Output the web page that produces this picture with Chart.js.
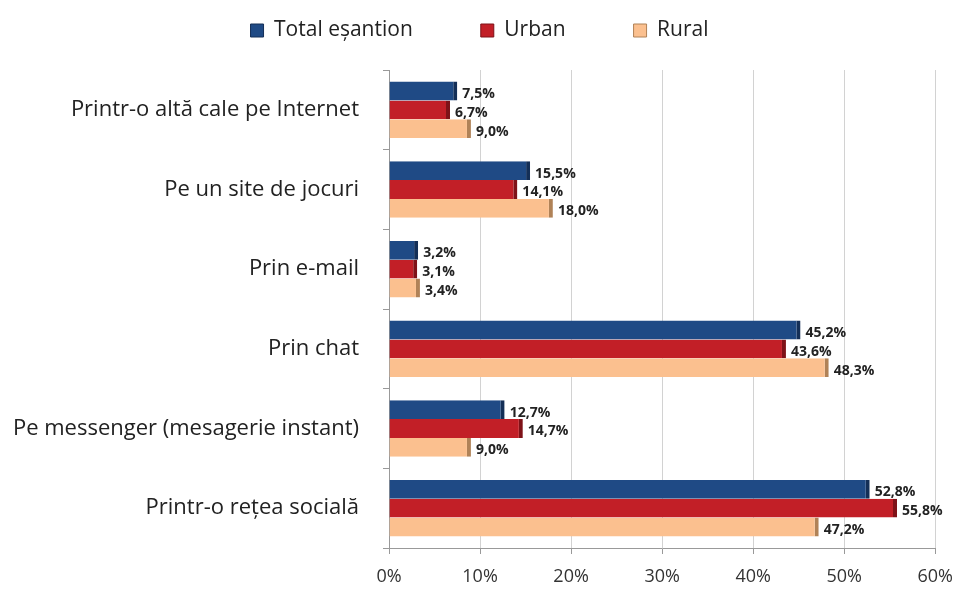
<!DOCTYPE html>
<html lang="ro">
<head>
<meta charset="UTF-8">
<title>Canale</title>
<script src="https://cdn.jsdelivr.net/npm/chart.js"></script>
<style>
  body { margin: 0; background: #ffffff; }
  .wrap { width: 965px; height: 591px; }
</style>
</head>
<body>
<div class="wrap"><canvas id="chart" width="965" height="591"></canvas></div>
<script>
const categories = [
  'Printr-o altă cale pe Internet',
  'Pe un site de jocuri',
  'Prin e-mail',
  'Prin chat',
  'Pe messenger (mesagerie instant)',
  'Printr-o reţea socială'
];
const totalValues = [7.5, 15.5, 3.2, 45.2, 12.7, 52.8];
const urbanValues = [6.7, 14.1, 3.1, 43.6, 14.7, 55.8];
const ruralValues = [9.0, 18.0, 3.4, 48.3, 9.0, 47.2];
const seriesNames = ['Total eşantion', 'Urban', 'Rural'];

const fontFamily = '"Open Sans", sans-serif';

// value labels to the right of each bar, comma decimals
const barLabels = {
  id: 'barLabels',
  afterDatasetsDraw(chart) {
    const ctx = chart.ctx;
    ctx.save();
    ctx.font = 'bold 14px ' + fontFamily;
    ctx.fillStyle = '#222';
    ctx.textBaseline = 'middle';
    chart.data.datasets.forEach((ds, i) => {
      chart.getDatasetMeta(i).data.forEach((bar, j) => {
        const txt = ds.data[j].toFixed(1).replace('.', ',') + '%';
        ctx.fillText(txt, bar.x + 5, bar.y + 3);
      });
    });
    ctx.restore();
  }
};

// legend: wide gaps between items but kept near the top edge
const legendPlace = {
  id: 'legendPlace',
  beforeLayout(chart) {
    const lg = chart.legend;
    if (!lg._origFit) {
      lg._origFit = lg.fit;
      lg.fit = function () {
        this._origFit();
        this.height = 70;
      };
    }
  },
  afterLayout(chart) {
    // move only the top edge so the items sit higher without being clipped
    chart.legend.top -= 48;
  }
};

new Chart(document.getElementById('chart'), {
  type: 'bar',
  data: {
    labels: categories,
    datasets: [
      {
        label: seriesNames[0],
        data: totalValues,
        backgroundColor: '#1f4a85',
        borderColor: '#142f57',
        borderWidth: { top: 0, right: 4, bottom: 0, left: 0 },
        borderSkipped: false
      },
      {
        label: seriesNames[1],
        data: urbanValues,
        backgroundColor: '#c21f27',
        borderColor: '#7e1218',
        borderWidth: { top: 0, right: 4, bottom: 0, left: 0 },
        borderSkipped: false
      },
      {
        label: seriesNames[2],
        data: ruralValues,
        backgroundColor: '#fbc08f',
        borderColor: '#b08257',
        borderWidth: { top: 0, right: 4, bottom: 0, left: 0 },
        borderSkipped: false
      }
    ]
  },
  options: {
    indexAxis: 'y',
    responsive: false,
    animation: false,
    layout: { padding: { top: 0, right: 6, bottom: 0, left: 0 } },
    datasets: { bar: { categoryPercentage: 0.71, barPercentage: 1.0 } },
    plugins: {
      tooltip: { enabled: false },
      legend: {
        position: 'top',
        labels: {
          boxWidth: 13,
          boxHeight: 13,
          padding: 68,
          color: '#222',
          font: { family: fontFamily, size: 21 }
        }
      }
    },
    scales: {
      x: {
        min: 0,
        max: 60,
        ticks: {
          stepSize: 10,
          padding: 12,
          color: '#333',
          font: { family: fontFamily, size: 18 },
          callback: v => v + '%'
        },
        grid: { color: '#d2d2d2', tickLength: 6, tickColor: '#999' },
        border: { color: '#999' },
        afterFit(scale) { scale.height = 43; }
      },
      y: {
        ticks: {
          padding: 24,
          color: '#222',
          font: { family: fontFamily, size: 22 }
        },
        grid: { drawOnChartArea: false, tickLength: 6, tickColor: '#999' },
        border: { color: '#999' },
        afterFit(scale) { scale.width = 389; }
      }
    }
  },
  plugins: [barLabels, legendPlace]
});
</script>
</body>
</html>
